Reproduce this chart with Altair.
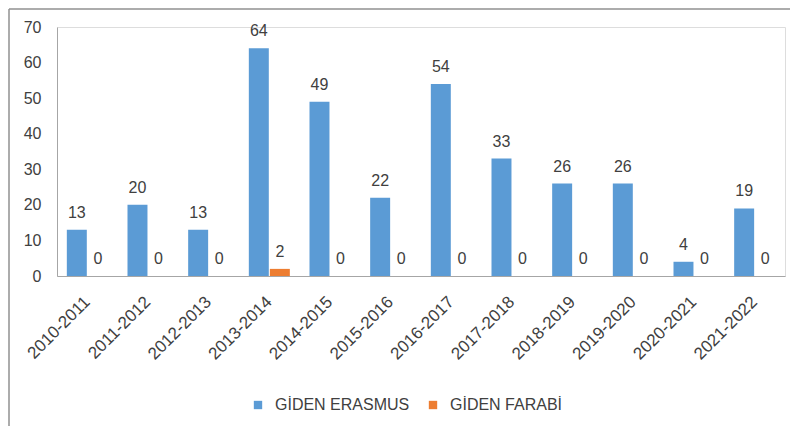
import altair as alt
import pandas as pd

years = ["2010-2011", "2011-2012", "2012-2013", "2013-2014", "2014-2015", "2015-2016",
         "2016-2017", "2017-2018", "2018-2019", "2019-2020", "2020-2021", "2021-2022"]
erasmus = [13, 20, 13, 64, 49, 22, 54, 33, 26, 26, 4, 19]
farabi = [0, 0, 0, 2, 0, 0, 0, 0, 0, 0, 0, 0]
series = ["GİDEN ERASMUS", "GİDEN FARABİ"]
colors = ["#5B9BD5", "#ED7D31"]
y_ticks = [0, 10, 20, 30, 40, 50, 60, 70]

rows = []
for i, y in enumerate(years):
    rows.append({"year": y, "series": series[0], "value": erasmus[i]})
    rows.append({"year": y, "series": series[1], "value": farabi[i]})
df = pd.DataFrame(rows)

FONT = "Liberation Sans"
TXT = "#404040"

x_axis = alt.Axis(labelAngle=-45, labelAlign="right", labelBaseline="middle",
                  labelPadding=23, ticks=False, domainColor="#A6A6A6",
                  labelFontSize=17, labelColor=TXT, labelFont=FONT,
                  labelOverlap=False, labelBound=False)
y_axis = alt.Axis(values=y_ticks, tickCount=8, grid=False, ticks=False,
                  labelPadding=16, domainColor="#A6A6A6", labelFontSize=16,
                  labelColor=TXT, labelFont=FONT, labelOverlap=False)
x_scale = alt.Scale(paddingInner=0.324, paddingOuter=0.162)
y_scale = alt.Scale(domain=[0, 70], nice=False)

xo = alt.XOffset("series:N", sort=series, scale=alt.Scale(paddingInner=0.05))

base = alt.Chart(df)

bars = base.mark_bar().encode(
    x=alt.X("year:N", sort=years, title=None, scale=x_scale, axis=x_axis),
    xOffset=xo,
    y=alt.Y("value:Q", title=None, scale=y_scale, axis=y_axis),
    color=alt.Color("series:N", sort=series,
                    scale=alt.Scale(domain=series, range=colors),
                    legend=alt.Legend(title=None, orient="none", direction="horizontal",
                                      legendX=193, legendY=370, symbolType="square",
                                      symbolSize=70, symbolStrokeWidth=0,
                                      labelFontSize=16, labelColor=TXT, labelFont=FONT,
                                      labelOffset=9, columnPadding=15)),
)

labels = base.mark_text(baseline="alphabetic", dy=-12, fontSize=16, font=FONT,
                        color=TXT).encode(
    x=alt.X("year:N", sort=years, title=None, scale=x_scale, axis=x_axis),
    xOffset=xo,
    y=alt.Y("value:Q", title=None, scale=y_scale, axis=y_axis),
    text=alt.Text("value:Q"),
)

border = alt.Chart(alt.Data(values=[{"a": 1}]))
top_line = border.mark_rule(color="#909090", strokeWidth=1.5).encode(
    x=alt.value(-48), x2=alt.value(733), y=alt.value(-18))
left_line = border.mark_rule(color="#909090", strokeWidth=1.5).encode(
    x=alt.value(-48), y=alt.value(-18), y2=alt.value(399))

chart = alt.layer(bars, labels, top_line, left_line).properties(
    width=728, height=249,
    autosize=alt.AutoSizeParams(type="none"),
    padding={"left": 49, "top": 19, "right": 5, "bottom": 150},
).configure_view(strokeWidth=0, stroke="transparent").configure(background="white")

chart.save("out.html", embed_options={"renderer": "svg", "actions": False})
